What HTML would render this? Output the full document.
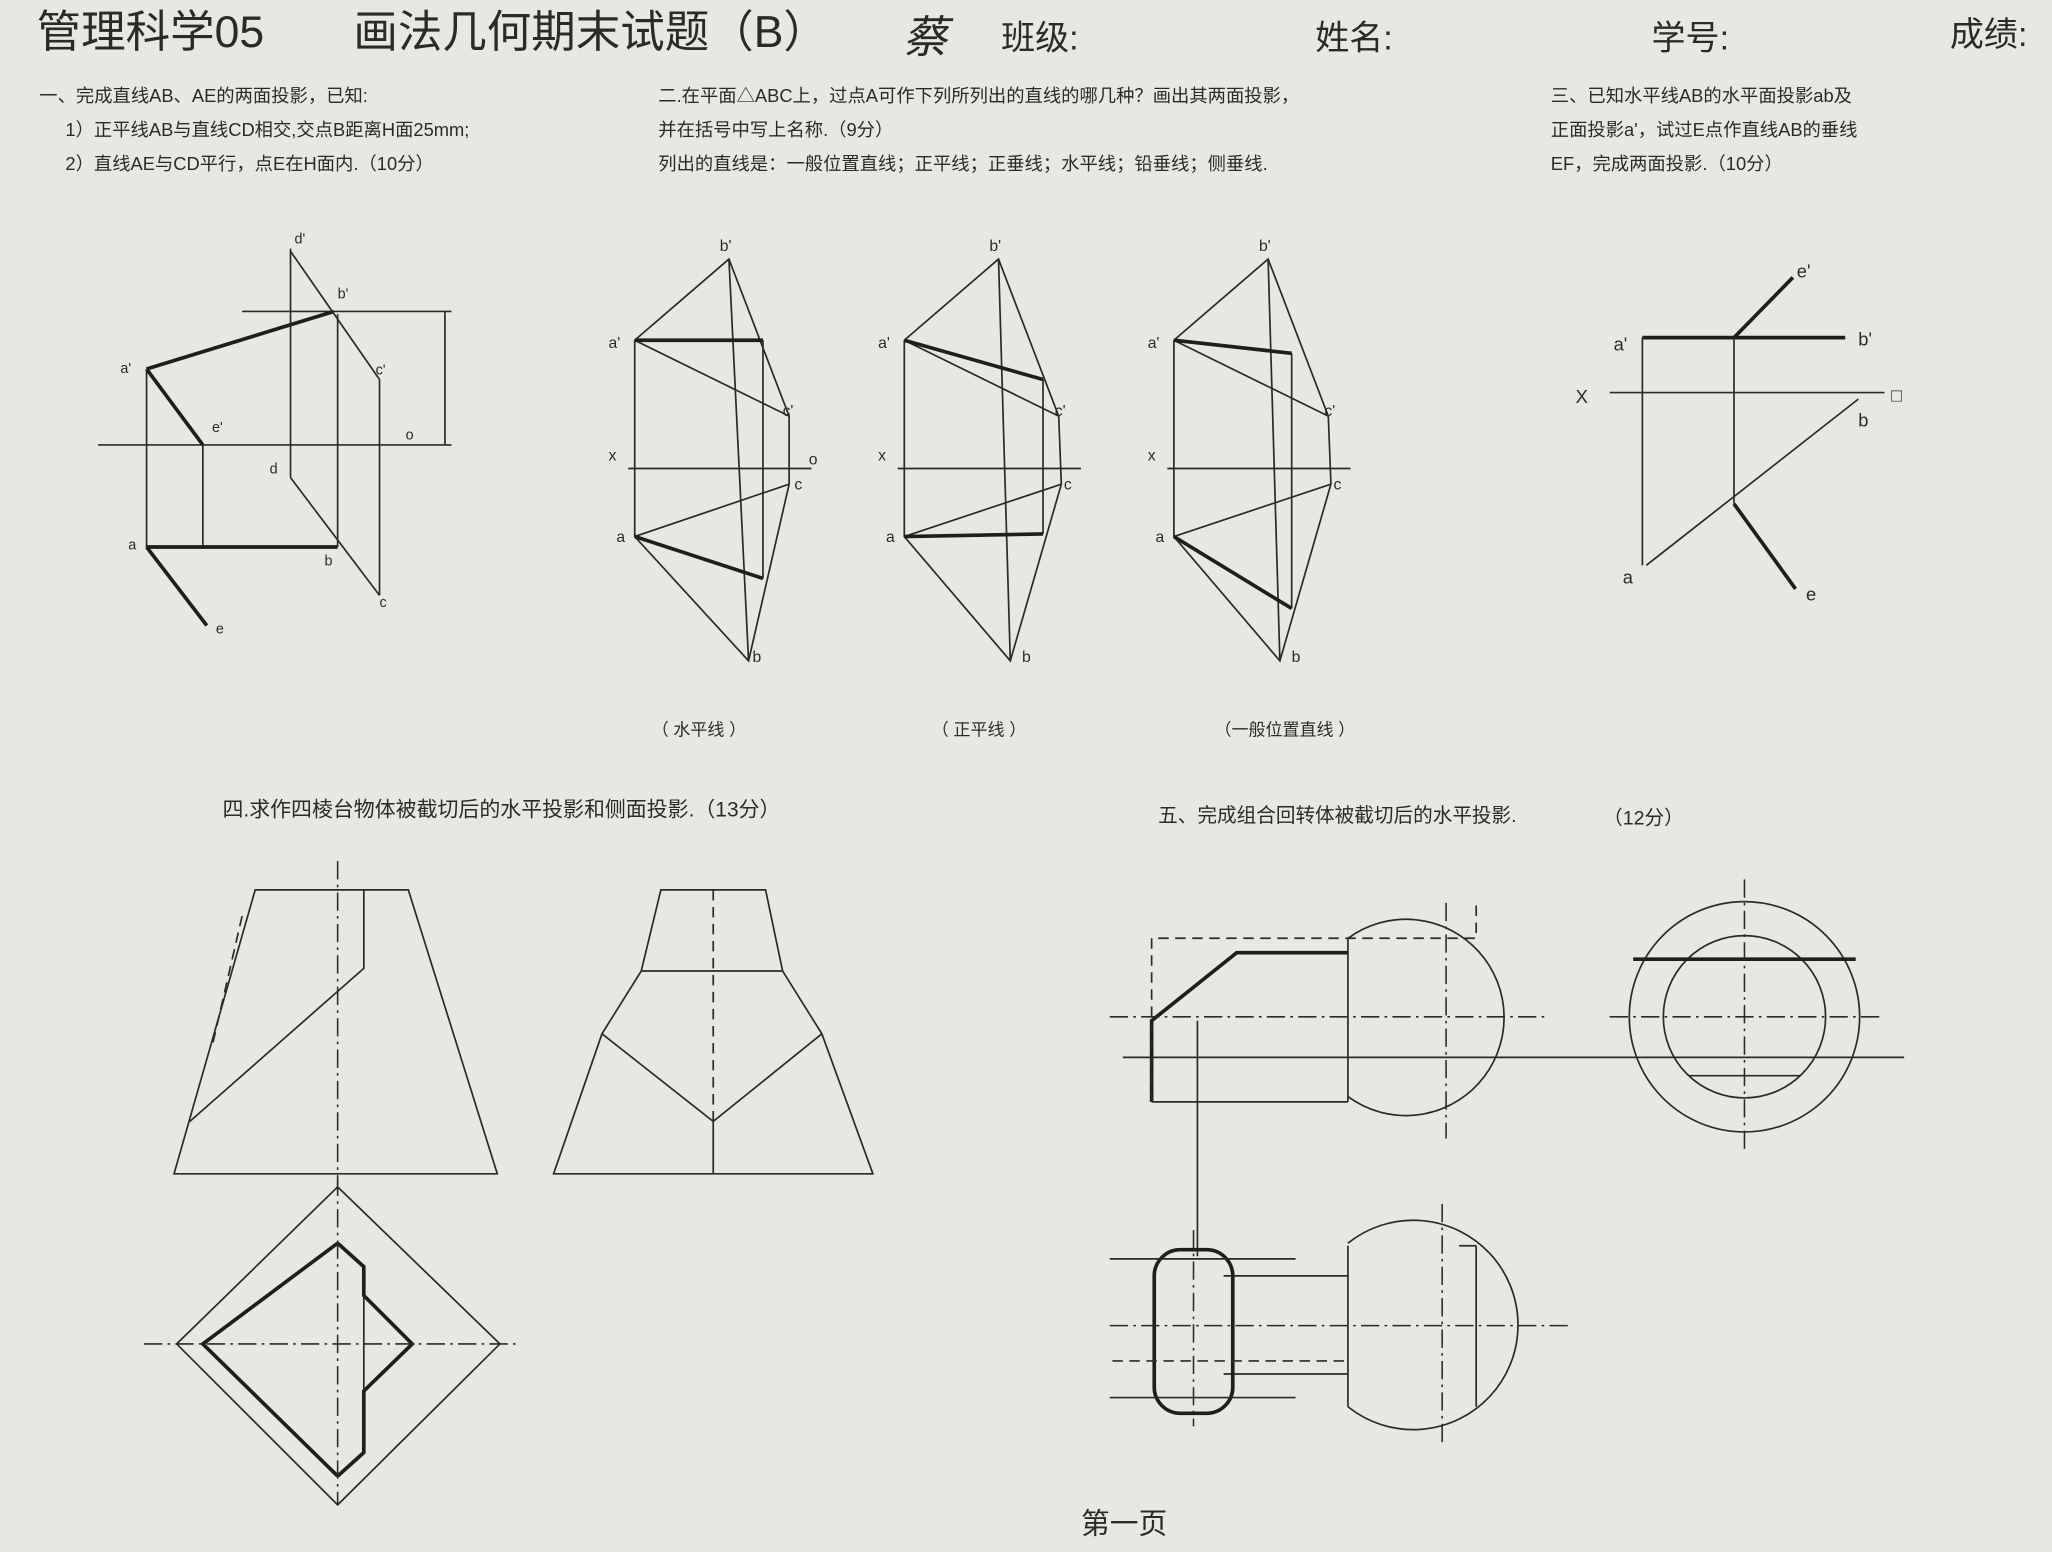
<!DOCTYPE html>
<html><head><meta charset="utf-8">
<style>
html,body{margin:0;padding:0;background:#e8e8e3;}
svg{display:block;}
text{font-family:"Liberation Sans","Noto Sans CJK SC",sans-serif;fill:#2a2a2a;}
.t{stroke:#2a2a2a;stroke-width:1.3;fill:none;}
.k{stroke:#1e1e1e;stroke-width:2.8;fill:none;}
.d{stroke:#2a2a2a;stroke-width:1.2;fill:none;stroke-dasharray:14 4 2 4;}
.h{stroke:#2a2a2a;stroke-width:1.3;fill:none;stroke-dasharray:8 5;}
</style></head>
<body>
<svg width="2052" height="1552" viewBox="0 0 1568 1186" preserveAspectRatio="none">
<rect width="1568" height="1186" fill="#e8e8e3"/>
<g>
<text x="28" y="36" font-size="34">管理科学05</text>
<text x="270" y="36" font-size="34">画法几何期末试题（B）</text>
<text x="690" y="40" font-size="34" font-style="italic">蔡</text>
<text x="765" y="38" font-size="26">班级:</text>
<text x="1005" y="38" font-size="26">姓名:</text>
<text x="1262" y="38" font-size="26">学号:</text>
<text x="1490" y="35" font-size="26">成绩:</text>
</g>
<g font-size="14">
<text x="30" y="78">一、完成直线AB、AE的两面投影，已知:</text>
<text x="50" y="104">1）正平线AB与直线CD相交,交点B距离H面25mm;</text>
<text x="50" y="130">2）直线AE与CD平行，点E在H面内.（10分）</text>
<text x="503" y="78">二.在平面△ABC上，过点A可作下列所列出的直线的哪几种？画出其两面投影，</text>
<text x="503" y="104">并在括号中写上名称.（9分）</text>
<text x="503" y="130">列出的直线是：一般位置直线；正平线；正垂线；水平线；铅垂线；侧垂线.</text>
<text x="1185" y="78">三、已知水平线AB的水平面投影ab及</text>
<text x="1185" y="104">正面投影a'，试过E点作直线AB的垂线</text>
<text x="1185" y="130">EF，完成两面投影.（10分）</text>
<text x="170" y="624" font-size="16">四.求作四棱台物体被截切后的水平投影和侧面投影.（13分）</text>
<text x="885" y="628" font-size="15">五、完成组合回转体被截切后的水平投影.</text>
<text x="1225" y="630" font-size="15">（12分）</text>
<text x="498" y="562" font-size="13">（ 水平线 ）</text>
<text x="712" y="562" font-size="13">（ 正平线 ）</text>
<text x="928" y="562" font-size="13">（一般位置直线 ）</text>
<text x="826" y="1172" font-size="22">第一页</text>
</g>
<g>
<line class="t" x1="75" y1="340" x2="345" y2="340"/>
<line class="t" x1="185" y1="238" x2="345" y2="238"/>
<line class="t" x1="340" y1="238" x2="340" y2="340"/>
<line class="k" x1="112" y1="282" x2="255" y2="238"/>
<line class="k" x1="112" y1="282" x2="155" y2="340"/>
<line class="t" x1="155" y1="340" x2="155" y2="418"/>
<line class="t" x1="112" y1="282" x2="112" y2="418"/>
<line class="k" x1="112" y1="418" x2="258" y2="418"/>
<line class="k" x1="112" y1="418" x2="158" y2="478"/>
<line class="t" x1="222" y1="190" x2="222" y2="365"/>
<line class="t" x1="222" y1="192" x2="290" y2="290"/>
<line class="t" x1="258" y1="240" x2="258" y2="418"/>
<line class="t" x1="290" y1="290" x2="290" y2="455"/>
<line class="t" x1="222" y1="365" x2="290" y2="455"/>
<g font-size="11"><text x="225" y="186">d'</text><text x="258" y="228">b'</text><text x="92" y="285">a'</text><text x="162" y="330">e'</text><text x="287" y="286">c'</text><text x="310" y="336">o</text><text x="206" y="362">d</text><text x="98" y="420">a</text><text x="248" y="432">b</text><text x="290" y="464">c</text><text x="165" y="484">e</text></g>
</g>
<g>
<g transform="translate(0,0)">
<line class="t" x1="480" y1="358" x2="620" y2="358"/>
<polyline class="t" points="485,260 557,198 603,318 603,370 572,505 485,410 485,260"/>
<line class="t" x1="485" y1="260" x2="603" y2="318"/><line class="t" x1="557" y1="198" x2="572" y2="505"/>
<line class="t" x1="485" y1="410" x2="603" y2="370"/><line class="t" x1="583" y1="260" x2="583" y2="442"/>
<line class="k" x1="485" y1="260" x2="583" y2="260"/><line class="k" x1="485" y1="410" x2="583" y2="442"/>
<g font-size="12"><text x="550" y="192">b'</text><text x="465" y="266">a'</text><text x="598" y="318">c'</text><text x="465" y="352">x</text><text x="618" y="355">o</text><text x="607" y="374">c</text><text x="471" y="414">a</text><text x="575" y="506">b</text></g>
</g>
<g transform="translate(206,0)">
<line class="t" x1="480" y1="358" x2="620" y2="358"/>
<polyline class="t" points="485,260 557,198 603,318 605,370 566,505 485,410 485,260"/>
<line class="t" x1="485" y1="260" x2="603" y2="318"/><line class="t" x1="557" y1="198" x2="566" y2="505"/>
<line class="t" x1="485" y1="410" x2="605" y2="370"/><line class="t" x1="591" y1="290" x2="591" y2="408"/>
<line class="k" x1="485" y1="260" x2="591" y2="290"/><line class="k" x1="485" y1="410" x2="591" y2="408"/>
<g font-size="12"><text x="550" y="192">b'</text><text x="465" y="266">a'</text><text x="600" y="318">c'</text><text x="465" y="352">x</text><text x="607" y="374">c</text><text x="471" y="414">a</text><text x="575" y="506">b</text></g>
</g>
<g transform="translate(412,0)">
<line class="t" x1="480" y1="358" x2="620" y2="358"/>
<polyline class="t" points="485,260 557,198 603,318 605,370 566,505 485,410 485,260"/>
<line class="t" x1="485" y1="260" x2="603" y2="318"/><line class="t" x1="557" y1="198" x2="566" y2="505"/>
<line class="t" x1="485" y1="410" x2="605" y2="370"/><line class="t" x1="575" y1="270" x2="575" y2="465"/>
<line class="k" x1="485" y1="260" x2="575" y2="270"/><line class="k" x1="485" y1="410" x2="575" y2="465"/>
<g font-size="12"><text x="550" y="192">b'</text><text x="465" y="266">a'</text><text x="600" y="318">c'</text><text x="465" y="352">x</text><text x="607" y="374">c</text><text x="471" y="414">a</text><text x="575" y="506">b</text></g>
</g>
</g>
<g>
<line class="t" x1="1230" y1="300" x2="1440" y2="300"/>
<line class="k" x1="1255" y1="258" x2="1410" y2="258"/>
<line class="t" x1="1255" y1="258" x2="1255" y2="432"/>
<line class="t" x1="1325" y1="258" x2="1325" y2="385"/>
<line class="k" x1="1325" y1="258" x2="1370" y2="212"/>
<line class="t" x1="1258" y1="432" x2="1420" y2="305"/>
<line class="k" x1="1325" y1="385" x2="1372" y2="450"/>
<g font-size="14"><text x="1373" y="212">e'</text><text x="1233" y="268">a'</text><text x="1420" y="264">b'</text><text x="1204" y="308">X</text><text x="1445" y="307">□</text><text x="1420" y="326">b</text><text x="1240" y="446">a</text><text x="1380" y="459">e</text></g>
</g>
<g>
<polygon class="t" points="195,680 312,680 380,897 133,897"/>
<line class="d" x1="258" y1="658" x2="258" y2="910"/>
<polyline class="t" points="278,680 278,740 145,857"/>
<line class="h" x1="185" y1="700" x2="162" y2="800"/>
<polygon class="t" points="505,680 585,680 598,742 628,790 667,897 423,897 460,790 490,742"/>
<line class="t" x1="490" y1="742" x2="598" y2="742"/>
<polyline class="t" points="460,790 545,857 628,790"/>
<line class="t" x1="545" y1="857" x2="545" y2="897"/>
<line class="h" x1="545" y1="680" x2="545" y2="857"/>
<polygon class="t" points="258,907 382,1027 258,1150 135,1027"/>
<polyline class="k" points="258,950 155,1027 258,1128"/>
<polyline class="k" points="258,950 278,968 278,990 315,1027 278,1063 278,1110 258,1128"/>
<line class="t" x1="278" y1="990" x2="278" y2="1063"/>
<line class="d" x1="110" y1="1027" x2="395" y2="1027"/>
<line class="d" x1="258" y1="900" x2="258" y2="1150"/>
</g>
<g>
<path class="t" d="M1030,717 A75,75 0 1,1 1030,838"/>
<line class="t" x1="1030" y1="717" x2="1030" y2="842"/>
<polyline class="k" points="880,842 880,780 945,728 1030,728"/>
<line class="t" x1="880" y1="842" x2="1030" y2="842"/>
<polyline class="h" points="880,842 880,717 1128,717 1128,690"/>
<line class="d" x1="848" y1="777" x2="1182" y2="777"/>
<line class="t" x1="858" y1="808" x2="1455" y2="808"/>
<line class="d" x1="1105" y1="690" x2="1105" y2="870"/>
<line class="t" x1="915" y1="780" x2="915" y2="960"/>
<circle class="t" cx="1333" cy="777" r="88"/>
<circle class="t" cx="1333" cy="777" r="62"/>
<polyline class="k" points="1248,733 1418,733"/>
<line class="t" x1="1290" y1="822" x2="1376" y2="822"/>
<line class="d" x1="1230" y1="777" x2="1440" y2="777"/>
<line class="d" x1="1333" y1="672" x2="1333" y2="880"/>
<path class="t" d="M1030,950 A80,80 0 1,1 1030,1075"/>
<line class="t" x1="1030" y1="952" x2="1030" y2="1075"/>
<line class="t" x1="935" y1="975" x2="1030" y2="975"/>
<line class="t" x1="935" y1="1050" x2="1030" y2="1050"/>
<line class="t" x1="1115" y1="952" x2="1128" y2="952"/>
<line class="t" x1="1128" y1="952" x2="1128" y2="1075"/>
<rect class="k" x="882" y="955" width="60" height="125" rx="20"/>
<line class="t" x1="848" y1="962" x2="990" y2="962"/>
<line class="t" x1="848" y1="1068" x2="990" y2="1068"/>
<line class="h" x1="850" y1="1040" x2="1030" y2="1040"/>
<line class="d" x1="848" y1="1013" x2="1200" y2="1013"/>
<line class="d" x1="1102" y1="920" x2="1102" y2="1105"/>
<line class="d" x1="912" y1="940" x2="912" y2="1090"/>
</g>
</svg>
</body></html>
